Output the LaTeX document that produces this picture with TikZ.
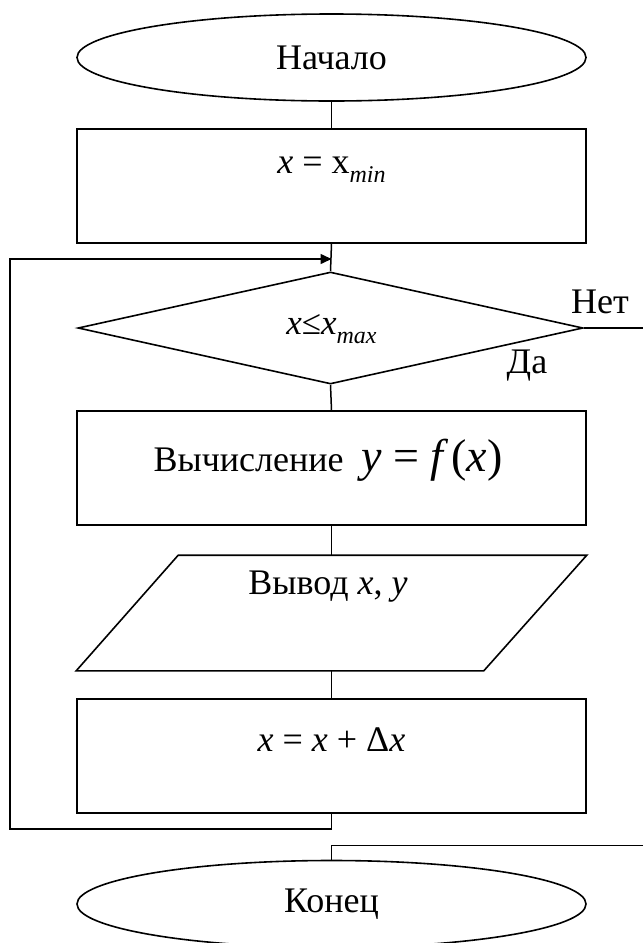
\documentclass[tikz,border=0pt]{standalone}
\usepackage{fontspec}
\setmainfont{Liberation Serif}
\usetikzlibrary{shapes.geometric,arrows.meta}
\begin{document}
\begin{tikzpicture}[x=1pt,y=-1pt, line width=1.6pt,
  shp/.style={draw, inner sep=0pt, minimum width=509pt},
  blk/.style={shp, rectangle, minimum height=114pt},
  term/.style={shp, ellipse, minimum height=87pt},
  txt/.style={inner sep=0pt, font=\fontsize{36}{40}\selectfont},
  small/.style={inner sep=0pt, font=\fontsize{35}{38}\selectfont},
  conn/.style={line width=1.5pt},
  arr/.style={conn, -{Triangle[length=11pt,width=10pt]}}]
\useasboundingbox (0,0) rectangle (643,943);
% shapes
\node[term] (start) at (331.5,57.5) {};
\node[blk] (r1) at (331.5,186) {};
\node[draw, diamond, inner sep=0pt, minimum width=505pt, minimum height=112pt] (d) at (330.5,328) {};
\node[blk] (r2) at (331.5,468) {};
\node[inner sep=0pt, minimum width=509pt, minimum height=114pt] (p) at (331.5,613) {};
\draw ([xshift=102pt]p.north west) -- (p.north east) -- ([xshift=-103pt]p.south east) -- (p.south west) -- cycle;
\node[blk] (r3) at (331.5,756) {};
\node[term] (stop) at (331.5,904) {};
% texts
\node[txt] (tstart) at (331.5,57.5) {Начало};
\node[txt] (t1) at (331.5,170) {\itshape x \upshape = x\raisebox{-0.25em}{\fontsize{24}{26}\selectfont\itshape min}};
\node[small] (td) at (331.5,329) {\itshape x\upshape ≤\itshape x\raisebox{-0.25em}{\fontsize{24}{26}\selectfont max}};
\node[txt] (tno) at (600,302) {Нет};
\node[txt] (tyes) at (527,366) {Да};
\node[txt] (t2) at (328,460) {Вычисление\ \ {\fontsize{46}{50}\selectfont\itshape y\upshape\ =\ \itshape f\upshape\,(\itshape x\upshape)}};
\node[txt] (tp) at (328,587) {Вывод \itshape x\upshape, \itshape y};
\node[txt] (t3) at (331.5,740) {\itshape x \upshape = \itshape x \upshape + Δ\itshape x};
\node[txt] (tstop) at (331.5,904) {Конец};
% connectors
\coordinate (noEnd) at (643,328);
\coordinate (loopA) at (331.5,829);
\coordinate (loopB) at (10,829);
\coordinate (loopC) at (10,259);
\coordinate (loopD) at (331.5,259);
\coordinate (exitA) at (643,845.5);
\coordinate (exitB) at (331.5,845.5);
\draw[conn] (start.south) -- (r1.north);
\draw[conn] (r1.south) -- (d.north);
\draw[conn] (d.south) -- (r2.north);
\draw[conn] (r2.south) -- (p.north);
\draw[conn] (p.south) -- (r3.north);
\draw[conn] (d.east) -- (noEnd);
\draw[arr] (r3.south) -- (loopA) -- (loopB) -- (loopC) -- (loopD);
\draw[conn] (exitA) -- (exitB) -- (stop.north);
\end{tikzpicture}
\end{document}
